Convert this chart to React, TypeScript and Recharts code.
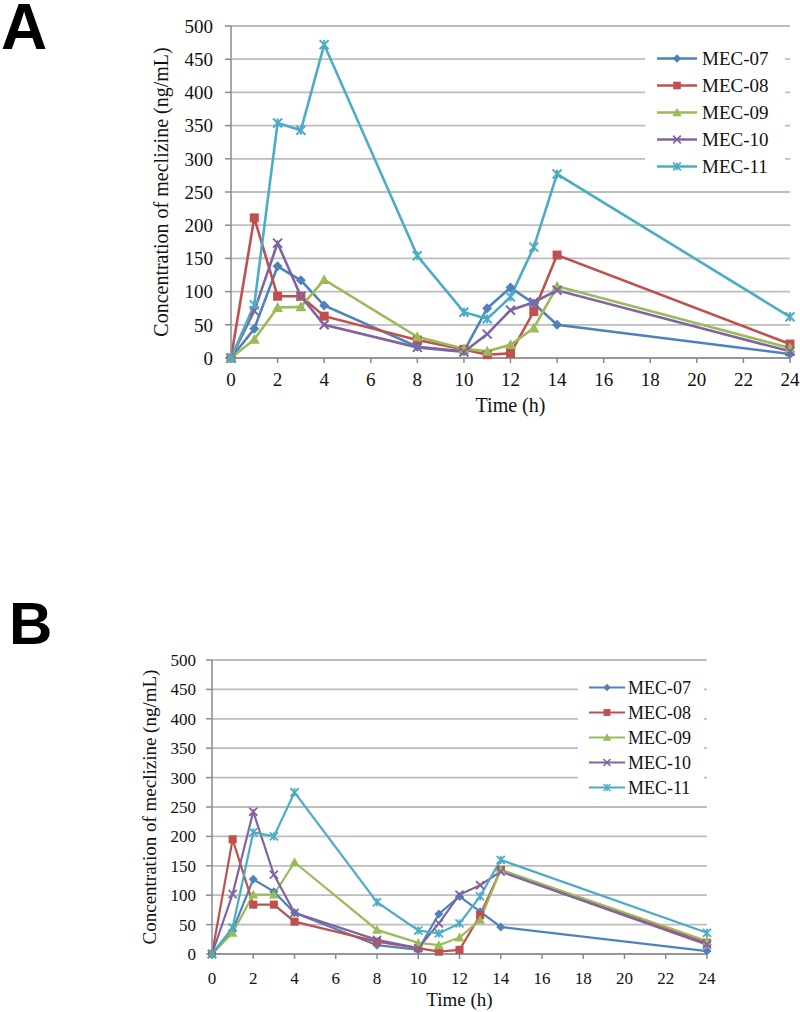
import React from "react";
import {
  LineChart,
  Line,
  XAxis,
  YAxis,
  CartesianGrid,
  Legend,
  Label,
} from "recharts";

// sampling times (h)
const hours = [0, 1, 2, 3, 4, 8, 10, 11, 12, 13, 14, 24];
const timeTicks = [0, 2, 4, 6, 8, 10, 12, 14, 16, 18, 20, 22, 24];
const concTicks = [0, 50, 100, 150, 200, 250, 300, 350, 400, 450, 500];
const seriesNames = ["MEC-07", "MEC-08", "MEC-09", "MEC-10", "MEC-11"];

// panel A (ng/mL)
const mec07A = [0, 44, 138, 117, 79, 17, 10, 75, 106, 82, 50, 6];
const mec08A = [0, 211, 93, 93, 63, 27, 13, 5, 7, 70, 155, 21];
const mec09A = [0, 28, 76, 77, 118, 32, 14, 10, 20, 45, 108, 15];
const mec10A = [0, 71, 173, 93, 50, 16, 9, 36, 72, 84, 102, 10];
const mec11A = [0, 80, 354, 343, 472, 154, 69, 59, 92, 167, 277, 62];

// panel B (ng/mL)
const mec07B = [0, 40, 127, 106, 70, 15, 7, 68, 98, 72, 46, 5];
const mec08B = [0, 195, 84, 84, 55, 21, 10, 4, 7, 66, 143, 19];
const mec09B = [0, 36, 101, 101, 156, 41, 19, 15, 28, 58, 143, 22];
const mec10B = [0, 102, 242, 135, 70, 24, 10, 52, 101, 117, 140, 16];
const mec11B = [0, 45, 207, 200, 275, 88, 40, 35, 52, 98, 160, 36];

const toRows = (series: number[][]) =>
  hours.map((t, i) => {
    const row: Record<string, number> = { t };
    series.forEach((s, k) => {
      row[seriesNames[k]] = s[i];
    });
    return row;
  });

const rowsA = toRows([mec07A, mec08A, mec09A, mec10A, mec11A]);
const rowsB = toRows([mec07B, mec08B, mec09B, mec10B, mec11B]);

const looks = [
  { color: "#4F81BD", shape: "diamond" },
  { color: "#C0504D", shape: "square" },
  { color: "#9BBB59", shape: "triangle" },
  { color: "#8064A2", shape: "x" },
  { color: "#4BACC6", shape: "star" },
];

const SERIF = "'Liberation Serif', 'Times New Roman', serif";
const TEXT = "#111";
const AXIS = "#8a8a8a";
const GRID = "#bdbdbd";

function Marker({ shape, color, cx, cy, s }: any) {
  if (cx == null || cy == null) return null;
  if (shape === "diamond") {
    const r = 5 * s;
    return (
      <polygon
        points={`${cx},${cy - r} ${cx + r},${cy} ${cx},${cy + r} ${cx - r},${cy}`}
        fill={color}
      />
    );
  }
  if (shape === "square") {
    const r = 4.5 * s;
    return <rect x={cx - r} y={cy - r} width={2 * r} height={2 * r} fill={color} />;
  }
  if (shape === "triangle") {
    const r = 5.5 * s;
    return (
      <polygon
        points={`${cx},${cy - r} ${cx + r},${cy + r * 0.8} ${cx - r},${cy + r * 0.8}`}
        fill={color}
      />
    );
  }
  const r = 4.5 * s;
  return (
    <g stroke={color} strokeWidth={2 * s}>
      <line x1={cx - r} y1={cy - r} x2={cx + r} y2={cy + r} />
      <line x1={cx - r} y1={cy + r} x2={cx + r} y2={cy - r} />
      {shape === "star" && <line x1={cx} y1={cy - r} x2={cx} y2={cy + r} />}
    </g>
  );
}

function makeLegend(o: {
  fontSize: number;
  rowH: number;
  padL: number;
  sampleW: number;
  gap: number;
  s: number;
  lw: number;
}) {
  return () => (
    <div style={{ background: "#fff", paddingLeft: o.padL }}>
      {seriesNames.map((name, k) => (
        <div
          key={name}
          style={{ display: "flex", alignItems: "center", height: o.rowH }}
        >
          <svg width={o.sampleW} height={o.rowH}>
            <line
              x1={0}
              x2={o.sampleW}
              y1={o.rowH / 2}
              y2={o.rowH / 2}
              stroke={looks[k].color}
              strokeWidth={o.lw}
            />
            <Marker
              shape={looks[k].shape}
              color={looks[k].color}
              cx={o.sampleW / 2}
              cy={o.rowH / 2}
              s={o.s * 0.85}
            />
          </svg>
          <span
            style={{
              marginLeft: o.gap,
              fontFamily: SERIF,
              fontSize: o.fontSize,
              color: TEXT,
              lineHeight: 1,
            }}
          >
            {name}
          </span>
        </div>
      ))}
    </div>
  );
}

type PanelProps = {
  rows: Record<string, number>[];
  top: number;
  width: number;
  height: number;
  margin: { top: number; right: number; left: number; bottom: number };
  yAxisWidth: number;
  xAxisHeight: number;
  tickFont: number;
  labelFont: number;
  yLabelOffset: number;
  xTickMargin: number;
  yTickMargin: number;
  lineW: number;
  markerS: number;
  legendBox: { left: number; top: number; width: number; height: number };
  legend: ReturnType<typeof makeLegend>;
};

function Panel(p: PanelProps) {
  const tick = { fill: TEXT, fontSize: p.tickFont, fontFamily: SERIF };
  return (
    <div style={{ position: "absolute", left: 0, top: p.top }}>
      <LineChart width={p.width} height={p.height} data={p.rows} margin={p.margin}>
        <CartesianGrid vertical={false} stroke={GRID} strokeWidth={1.8} />
        <XAxis
          dataKey="t"
          type="number"
          domain={[0, 24]}
          ticks={timeTicks}
          interval={0}
          height={p.xAxisHeight}
          tick={tick}
          tickSize={5}
          tickMargin={p.xTickMargin}
          axisLine={{ stroke: AXIS, strokeWidth: 1.5 }}
          tickLine={{ stroke: AXIS, strokeWidth: 1.5 }}
        >
          <Label
            value="Time (h)"
            position="insideBottom"
            offset={0}
            style={{ fill: TEXT, fontSize: p.labelFont, fontFamily: SERIF }}
          />
        </XAxis>
        <YAxis
          domain={[0, 500]}
          ticks={concTicks}
          interval={0}
          width={p.yAxisWidth}
          tick={tick}
          tickSize={6}
          tickMargin={p.yTickMargin}
          axisLine={{ stroke: AXIS, strokeWidth: 1.5 }}
          tickLine={{ stroke: AXIS, strokeWidth: 1.5 }}
        >
          <Label
            value="Concentration of meclizine (ng/mL)"
            angle={-90}
            position="insideLeft"
            offset={p.yLabelOffset}
            style={{
              textAnchor: "middle",
              fill: TEXT,
              fontSize: p.labelFont,
              fontFamily: SERIF,
            }}
          />
        </YAxis>
        <Legend
          layout="vertical"
          align="center"
          verticalAlign="middle"
          content={p.legend}
          wrapperStyle={{ position: "absolute", ...p.legendBox }}
        />
        {seriesNames.map((name, k) => (
          <Line
            key={name}
            type="linear"
            dataKey={name}
            stroke={looks[k].color}
            strokeWidth={p.lineW}
            isAnimationActive={false}
            dot={(d: any) => (
              <Marker
                key={`${name}-${d.index}`}
                shape={looks[k].shape}
                color={looks[k].color}
                cx={d.cx}
                cy={d.cy}
                s={p.markerS}
              />
            )}
            activeDot={false}
          />
        ))}
      </LineChart>
    </div>
  );
}

export default function App() {
  return (
    <div
      style={{
        position: "absolute",
        left: 0,
        top: 0,
        width: 800,
        height: 1012,
        background: "#fff",
        overflow: "hidden",
      }}
    >
      <div
        style={{
          position: "absolute",
          left: 1,
          top: 0,
          fontFamily: "'Liberation Sans', Arial, sans-serif",
          fontWeight: 700,
          fontSize: 64,
          color: "#000",
          lineHeight: 0.85,
        }}
      >
        A
      </div>
      <div
        style={{
          position: "absolute",
          left: 9,
          top: 594,
          fontFamily: "'Liberation Sans', Arial, sans-serif",
          fontWeight: 700,
          fontSize: 60,
          color: "#000",
          lineHeight: 1,
        }}
      >
        B
      </div>

      <Panel
        rows={rowsA}
        top={0}
        width={800}
        height={422}
        margin={{ top: 26, right: 10, left: 140, bottom: 10 }}
        yAxisWidth={91}
        xAxisHeight={54}
        tickFont={19}
        labelFont={20}
        yLabelOffset={21}
        xTickMargin={10}
        yTickMargin={12}
        lineW={2.6}
        markerS={1}
        legendBox={{ left: 645, top: 45, width: 140, height: 136 }}
        legend={makeLegend({
          fontSize: 19,
          rowH: 27,
          padL: 12,
          sampleW: 40,
          gap: 5,
          s: 1,
          lw: 2.6,
        })}
      />

      <Panel
        rows={rowsB}
        top={600}
        width={800}
        height={412}
        margin={{ top: 60, right: 93, left: 132, bottom: 6 }}
        yAxisWidth={80}
        xAxisHeight={52}
        tickFont={17}
        labelFont={19}
        yLabelOffset={17}
        xTickMargin={13}
        yTickMargin={10}
        lineW={2.2}
        markerS={0.9}
        legendBox={{ left: 578, top: 75, width: 126, height: 126 }}
        legend={makeLegend({
          fontSize: 18,
          rowH: 25,
          padL: 11,
          sampleW: 36,
          gap: 3,
          s: 0.9,
          lw: 2.2,
        })}
      />
    </div>
  );
}
